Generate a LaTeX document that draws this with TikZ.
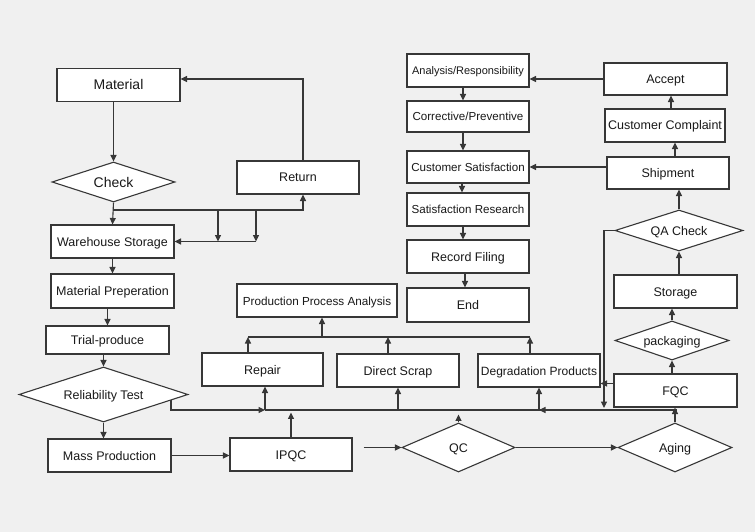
\documentclass[tikz,border=0pt]{standalone}
\usepackage{fontspec}
\setmainfont{Liberation Sans}
\usetikzlibrary{shapes.geometric, arrows.meta, positioning}
\definecolor{bgc}{RGB}{240,240,240}
\definecolor{linec}{RGB}{55,55,55}
\definecolor{textc}{RGB}{25,25,25}

\begin{document}
\begin{tikzpicture} [x=1pt, y=-1pt,
		box/.style={rectangle, draw=linec, fill=white, line width=1.1pt, inner sep=0pt,
			minimum width=122pt, minimum height=33pt, text height=9pt, text depth=0pt,
			text=textc, font=\fontsize{12.5}{14}\selectfont},
		dia/.style={diamond, aspect=3, draw=linec, fill=white, line width=1.1pt, inner sep=0pt,
			text height=9pt, text depth=0pt, text=textc, font=\fontsize{12.5}{14}\selectfont},
		tip/.style={-{Triangle[length=6.5pt, width=6pt]}, linec, line width=1.1pt},
		arr/.style={tip, draw=linec},
		ln/.style={draw=linec, line width=1.1pt}]
		\fill [bgc] (0,0) rectangle (755,532);
		\useasboundingbox (0,0) rectangle (755,532);

		% left column
		\node (mat) [box, minimum width=123pt, text height=10pt, font=\fontsize{14}{16}\selectfont] at (118.5,85) {Material};
		\node (chk) [dia, minimum width=123pt, minimum height=40pt, text height=10pt, font=\fontsize{14}{16}\selectfont] at (113.5,182) {Check};
		\node (ret) [box] at (298,177.5) {Return};
		\node (ware) [box, minimum width=123pt] at (112.5,241.5) {Warehouse Storage};
		\node (prep) [box, minimum width=123pt, minimum height=34pt] at (112.5,291) {Material Preperation};
		\node (trial) [box, minimum width=123pt, minimum height=28pt] at (107.5,340) {Trial-produce};
		\node (rel) [dia, minimum width=169pt, minimum height=55pt] at (103.5,394.5) {Reliability Test};
		\node (mass) [box, minimum width=123pt] at (109.5,455.5) {Mass Production};

		% middle
		\node (ipqc) [box] at (291,454.5) {IPQC};
		\node (qc) [dia, aspect=2.3, minimum width=113pt, minimum height=49pt] at (458.5,447.5) {QC};
		\node (rep) [box, minimum width=121pt] at (262.5,369.5) {Repair};
		\node (scrap) [box] at (398,370.5) {Direct Scrap};
		\node (deg) [box, font=\fontsize{12}{14}\selectfont] at (539,370.5) {Degradation Products};
		\node (ppa) [box, minimum width=160pt, font=\fontsize{11.7}{14}\selectfont] at (317,300.5) {Production Process Analysis};

		% right columns
		\node (aging) [dia, aspect=2.3, minimum width=114pt, minimum height=49pt] at (675,447.5) {Aging};
		\node (fqc) [box, minimum width=123pt] at (675.5,390.5) {FQC};
		\node (pack) [dia, minimum width=114pt, minimum height=39pt] at (672,340.5) {packaging};
		\node (stor) [box, minimum width=123pt] at (675.5,291.5) {Storage};
		\node (qa) [dia, minimum width=128pt, minimum height=41pt] at (679,230.5) {QA Check};
		\node (ship) [box, minimum height=32pt] at (668,173) {Shipment};
		\node (comp) [box, minimum width=120pt] at (665,125.5) {Customer Complaint};
		\node (acc) [box, minimum width=123pt, minimum height=32pt] at (665.5,79) {Accept};
		\node (ana) [box, text height=8pt, font=\fontsize{11}{13}\selectfont] at (468,70.5) {Analysis/Responsibility};
		\node (corr) [box, minimum height=31pt, text height=8.5pt, font=\fontsize{11.6}{14}\selectfont] at (468,116.5) {Corrective/Preventive};
		\node (sat) [box, minimum height=32pt, text height=8.5pt, font=\fontsize{11.6}{14}\selectfont] at (468,167) {Customer Satisfaction};
		\node (res) [box, text height=8.5pt, font=\fontsize{11.6}{14}\selectfont] at (468,209.5) {Satisfaction Research};
		\node (rec) [box] at (468,256.5) {Record Filing};
		\node (fin) [box, minimum height=34pt] at (468,305) {End};

		% junction points
		\coordinate (c1) at (113,210);
		\coordinate (d1) at (218,210);
		\coordinate (d2) at (256,210);
		\coordinate (bt) at (171,400);
		\coordinate (b1) at (265,410);
		\coordinate (b2) at (677,410);
		\coordinate (qx) at (604,408);
		\coordinate (p1) at (248,337);
		\coordinate (p2) at (530,337);

		\path [tip]
		(mat.south -| chk.north) edge (chk.north)
		(chk.south) edge (ware.north)
		(ware.south) edge (prep.north)
		(trial.north |- prep.south) edge (trial.north)
		(rel.north |- trial.south) edge (rel.north)
		(rel.south) edge (rel.south |- mass.north)
		(mass.east) edge (mass.east -| ipqc.west)
		([xshift=11pt]ipqc.east |- qc.west) edge (qc.west)
		(qc.east) edge (aging.west)
		(aging.north) edge (aging.north |- fqc.south)
		(fqc.north -| pack.south) edge (pack.south)
		(pack.north) edge (pack.north |- stor.south)
		(qa.south |- stor.north) edge (qa.south)
		(qa.north) edge (qa.north |- ship.south)
		([xshift=7pt]ship.north) edge ([xshift=7pt]ship.north |- comp.south)
		([xshift=6pt]comp.north) edge ([xshift=6pt]comp.north |- acc.south)
		(acc.west) edge (acc.west -| ana.east)
		(ship.west |- sat.east) edge (sat.east)
		([xshift=-5pt]ana.south) edge ([xshift=-5pt]corr.north)
		([xshift=-5pt]corr.south) edge ([xshift=-5pt]corr.south |- sat.north)
		([xshift=-6pt]sat.south) edge ([xshift=-6pt]sat.south |- res.north)
		([xshift=-5pt]res.south) edge ([xshift=-5pt]res.south |- rec.north)
		([xshift=-3pt]rec.south) edge ([xshift=-3pt]fin.north)
		;

		% material loop
		\draw [ln] (c1) -- (d2);
		\draw [arr] (d2) -| ([xshift=5pt]ret.south);
		\draw [arr] ([xshift=5pt]ret.north) |- ([yshift=6pt]mat.east);
		\draw [arr] (d1) -- (d1 |- ware.east);
		\draw [arr] (d2) -- (d2 |- ware.east);
		\draw [arr] (d2 |- ware.east) -- (ware.east);

		% bus line
		\draw [arr] (bt) |- (b1);
		\draw [ln] (b1) -- (b2);
		\draw [arr] (b1) -- (b1 |- rep.south);
		\draw [arr] (ipqc.north) -- ++(0,-25);
		\draw [arr] (scrap.south |- b1) -- (scrap.south);
		\draw [arr] (qc.north) -- ++(0,-8);
		\draw [arr] (deg.south |- b1) -- (deg.south);
		\draw [arr] ([xshift=22pt]deg.south |- b1) -- (deg.south |- b1);
		\draw [arr] (qa.west) -| (qx);
		\draw [arr] ([yshift=7pt]fqc.west) -- ([yshift=7pt]fqc.west -| deg.east);

		% analysis bracket
		\draw [ln] (p1) -- (p2);
		\draw [arr] (p1 |- rep.north) -- (p1);
		\draw [arr] ([xshift=-10pt]scrap.north) -- ([xshift=-10pt]scrap.north |- p1);
		\draw [arr] (p2 |- deg.north) -- (p2);
		\draw [arr] ([xshift=5pt]ppa.south |- p1) -- ([xshift=5pt]ppa.south);
	\end{tikzpicture}
\end{document}
